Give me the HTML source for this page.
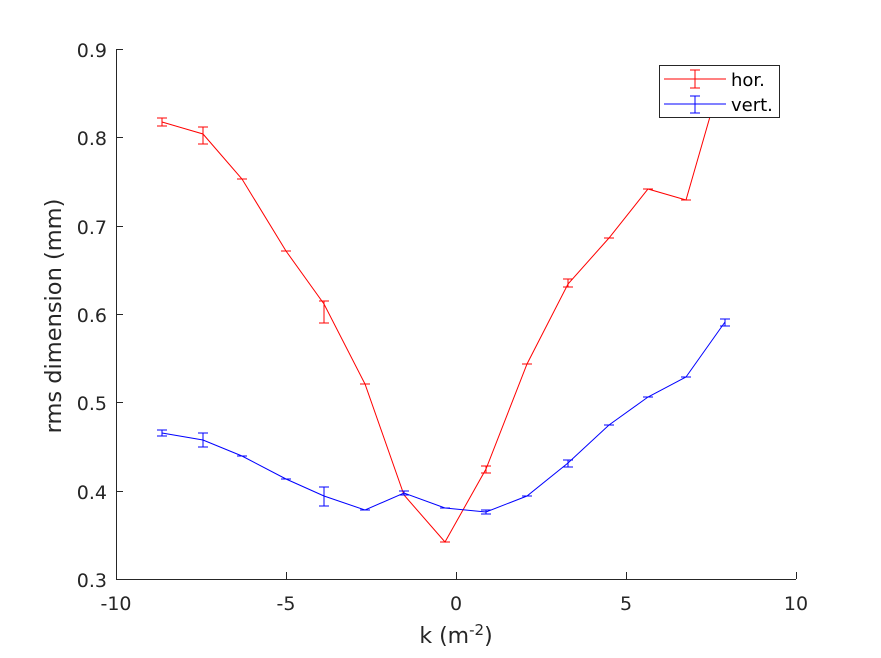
<!DOCTYPE html><html><head><style>body{margin:0;background:#fff}</style></head><body>
<svg width="881" height="653" xmlns="http://www.w3.org/2000/svg" font-family="DejaVu Sans, sans-serif">
<rect width="881" height="653" fill="#fff"/>
<g stroke="#262626" stroke-width="1" fill="none">
<line x1="116" y1="579.5" x2="796" y2="579.5"/>
<line x1="116.5" y1="49" x2="116.5" y2="579"/>
<line x1="116.5" y1="579" x2="116.5" y2="572"/><line x1="286.5" y1="579" x2="286.5" y2="572"/><line x1="456.5" y1="579" x2="456.5" y2="572"/><line x1="626.5" y1="579" x2="626.5" y2="572"/><line x1="796.5" y1="579" x2="796.5" y2="572"/>
<line x1="116" y1="49.5" x2="123" y2="49.5"/><line x1="116" y1="137.5" x2="123" y2="137.5"/><line x1="116" y1="226.5" x2="123" y2="226.5"/><line x1="116" y1="314.5" x2="123" y2="314.5"/><line x1="116" y1="402.5" x2="123" y2="402.5"/><line x1="116" y1="491.5" x2="123" y2="491.5"/><line x1="116" y1="579.5" x2="123" y2="579.5"/>
</g>
<g font-size="19" fill="#262626" text-anchor="middle">
<text x="116" y="610">-10</text><text x="286" y="610">-5</text><text x="456" y="610">0</text><text x="626" y="610">5</text><text x="796" y="610">10</text>
</g>
<g font-size="19" fill="#262626" text-anchor="end">
<text x="107" y="57">0.9</text><text x="107" y="145">0.8</text><text x="107" y="234">0.7</text><text x="107" y="322">0.6</text><text x="107" y="410">0.5</text><text x="107" y="499">0.4</text><text x="107" y="587">0.3</text>
</g>
<text x="456" y="643" font-size="22" fill="#262626" text-anchor="middle">k (m<tspan dy="-8" font-size="15">-2</tspan><tspan dy="8">)</tspan></text>
<text transform="translate(61,316) rotate(-90)" font-size="22.5" fill="#262626" text-anchor="middle">rms dimension (mm)</text>
<g fill="none" stroke-width="1">
<polyline stroke="#f00" points="162,122 203,134 242,179 286,251 324,304 365,384 404,495 445,542 486,469 527,364 568,284 609,238 648,189 686,200 724,68"/>
<g stroke="#f00">
<path d="M162,118V126M157,118H167M157,126H167"/>
<path d="M203,127V144M198,127H208M198,144H208"/>
<path d="M237,179H247M281,251H291"/>
<path d="M324,301V323M319,301H329M319,323H329"/>
<path d="M360,384H370M399,495H409M440,542H450"/>
<path d="M486,466V473M481,466H491M481,473H491"/>
<path d="M522,364H532"/>
<path d="M568,279V287M563,279H573M563,287H573"/>
<path d="M604,238H614M643,189H653M681,200H691"/>
</g>
<polyline stroke="#00f" points="162,433 203,440 242,456 286,479 324,496 365,510 404,493 445,508 486,512 527,496 568,463 609,425 648,397 686,377 725,322"/>
<g stroke="#00f">
<path d="M162,430V436M157,430H167M157,436H167"/>
<path d="M203,433V447M198,433H208M198,447H208"/>
<path d="M237,456H247M281,479H291"/>
<path d="M324,487V506M319,487H329M319,506H329"/>
<path d="M360,510H370"/>
<path d="M404,491V495M399,491H409M399,495H409"/>
<path d="M440,508H450"/>
<path d="M486,510V514M481,510H491M481,514H491"/>
<path d="M522,496H532"/>
<path d="M568,460V467M563,460H573M563,467H573"/>
<path d="M604,425H614M643,397H653M681,377H691"/>
<path d="M725,319V326M720,319H730M720,326H730"/>
</g>
</g>
<rect x="659.5" y="65.5" width="120" height="52" fill="#fff" stroke="#262626"/>
<g fill="none" stroke-width="1">
<path stroke="#f00" d="M664,79H726M695,70V88M690,70H700M690,88H700"/>
<path stroke="#00f" d="M664,104H726M695,96V113M690,96H700M690,113H700"/>
</g>
<text x="731" y="86" font-size="18" fill="#000">hor.</text>
<text x="731" y="111" font-size="18" fill="#000">vert.</text>
</svg>
</body></html>
